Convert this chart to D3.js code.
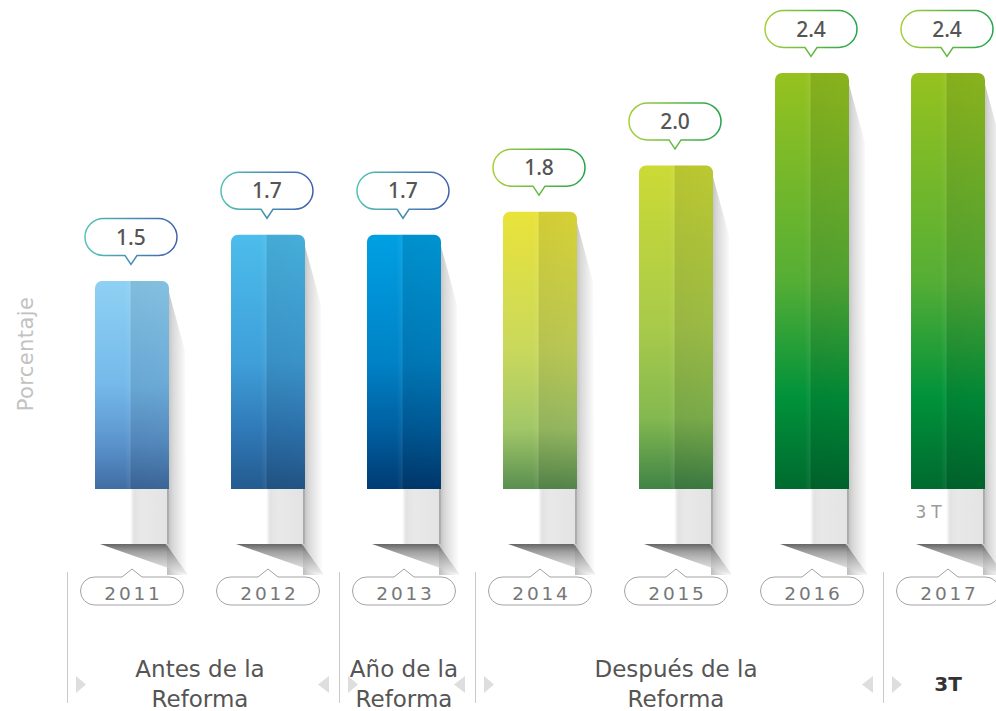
<!DOCTYPE html>
<html><head><meta charset="utf-8">
<script src="https://cdn.jsdelivr.net/npm/d3@7"></script>
<style>body{margin:0;background:#fff} svg{display:block}</style>
</head><body>
<svg id="c" width="996" height="711"></svg>
<script>
// ---- data ----
const years = ["2011","2012","2013","2014","2015","2016","2017"];
const values = [1.5, 1.7, 1.7, 1.8, 2.0, 2.4, 2.4];
const valueLabels = ["1.5","1.7","1.7","1.8","2.0","2.4","2.4"];
const groupLabels = [["Antes de la","Reforma"],["Año de la","Reforma"],["Después de la","Reforma"],["3T"]];
const groupStart = ["2011","2013","2014","2017"];
const groupEnd   = ["2012","2013","2016","2017"];
const axisTitle = "Porcentaje";
const periodNote = "3T";
// ---- palette ----
const colTop = ["#8fd1f4","#4cbdec","#00a0e3","#e9e33a","#ccda35","#96c21f","#96c21f"];
const colMid = ["#74b9ea","#3f9fd9","#0082c6","#c9d85c","#a8ca4a","#55ae35","#55ae35"];
const colLow = ["#5b93cc","#2f78b6","#005d9e","#a2c768","#84b950","#00923a","#00923a"];
const colBot = ["#3f6da3","#245a8f","#003b73","#5a8f50","#3f8346","#006a2f","#006a2f"];
const strokeL = ["#52c2b4","#52c2b4","#52c2b4","#a6cf39","#a6cf39","#a6cf39","#a6cf39"];
const strokeR = ["#3f5fae","#3f5fae","#3f5fae","#22a34b","#22a34b","#22a34b","#22a34b"];

const svg = d3.select("#c");
const W = 996;
const x = d3.scaleBand().domain(years).range([95, 985]).paddingInner(0.456).paddingOuter(0);
const y = d3.scaleLinear().domain([0.6, 2.4]).range([489, 73]);
const bw = x.bandwidth();
const base = y(0.6);
const foldY = base + 55, shadowBottom = base + 86;

const defs = svg.append("defs");
years.forEach((yr, i) => {
  const g = defs.append("linearGradient").attr("id", "bar" + i).attr("x1", 0).attr("y1", 0).attr("x2", 0).attr("y2", 1);
  [[0, colTop[i]], [0.5, colMid[i]], [0.78, colLow[i]], [1, colBot[i]]].forEach(s =>
    g.append("stop").attr("offset", s[0]).attr("stop-color", s[1]));
  const c = defs.append("linearGradient").attr("id", "cs" + i).attr("x1", 0).attr("y1", 0).attr("x2", 1).attr("y2", 0);
  c.append("stop").attr("offset", 0).attr("stop-color", strokeL[i]);
  c.append("stop").attr("offset", 1).attr("stop-color", strokeR[i]);
});
function lg(id, x2, y2, stops) {
  const g = defs.append("linearGradient").attr("id", id).attr("x1", 0).attr("y1", 0).attr("x2", x2).attr("y2", y2);
  stops.forEach(s => g.append("stop").attr("offset", s[0]).attr("stop-color", s[1]).attr("stop-opacity", s[2]));
}
lg("half", 1, 0, [[0,"#fff",0],[0.40,"#fff",0],[0.47,"#fff",0.06],[0.49,"#000",0.1],[1,"#000",0.08]]);
lg("rshadow", 1, 0, [[0,"#000",0.26],[0.3,"#000",0.15],[1,"#000",0]]);
lg("column", 1, 0, [[0,"#000",0.03],[0.08,"#000",0.11],[0.3,"#000",0.09],[1,"#000",0.11]]);
lg("fold", 0, 1, [[0,"#5e5e5e",0.95],[0.25,"#8e8e8e",0.85],[1,"#e8e8e8",0.6]]);

function barPath(L, T, w, B, r) {
  return `M${L},${B}V${T + r}A${r},${r} 0 0 1 ${L + r},${T}H${L + w - r}A${r},${r} 0 0 1 ${L + w},${T + r}V${B}Z`;
}
function pill(cx, cy, w, h, dir, pw, ph) {
  const r = h / 2, l = cx - w / 2, rt = cx + w / 2, t = cy - h / 2, b = cy + h / 2;
  let p = `M${l + r},${t}`;
  if (dir === "up") p += `H${cx - pw / 2}L${cx},${t - ph}L${cx + pw / 2},${t}`;
  p += `H${rt - r}A${r},${r} 0 0 1 ${rt - r},${b}`;
  if (dir === "down") p += `H${cx + pw / 2}L${cx},${b + ph}L${cx - pw / 2},${b}`;
  p += `H${l + r}A${r},${r} 0 0 1 ${l + r},${t}Z`;
  return p;
}

// shadows
const sh = svg.append("g");
years.forEach((yr, i) => {
  const L = x(yr), R = L + bw, cx = L + bw / 2, T = y(values[i]);
  sh.append("rect").attr("x", cx - 1).attr("y", base).attr("width", R - cx + 1).attr("height", foldY - base).attr("fill", "url(#column)");
  sh.append("polygon").attr("points", [[R - 2, T + 4], [R + 16, T + 70], [R + 18, shadowBottom], [R - 2, shadowBottom]].join(" ")).attr("fill", "url(#rshadow)");
  sh.append("polygon").attr("points", [[L + 5, foldY], [R - 3, foldY], [R + 19, shadowBottom]].join(" ")).attr("fill", "url(#fold)");
});

// bars
const bars = svg.append("g");
years.forEach((yr, i) => {
  const L = x(yr), T = y(values[i]);
  const d = barPath(L, T, bw, base, 7);
  bars.append("path").attr("d", d).attr("fill", `url(#bar${i})`);
  bars.append("path").attr("d", d).attr("fill", "url(#half)");
});

// callouts
const co = svg.append("g");
years.forEach((yr, i) => {
  const cx = x(yr) + bw / 2 - 1, cy = y(values[i]) - 44;
  co.append("path").attr("d", pill(cx, cy, 92, 37, "down", 12, 9))
    .attr("fill", "#fff").attr("stroke", `url(#cs${i})`).attr("stroke-width", 1.5);
  co.append("text").attr("x", cx).attr("y", cy + 7.5).attr("text-anchor", "middle")
    .attr("font-family", "'Noto Sans', sans-serif").attr("font-weight", 500).attr("font-size", 21)
    .attr("fill", "#555").text(valueLabels[i]);
});

// year pills
const yp = svg.append("g");
years.forEach((yr, i) => {
  const cx = x(yr) + bw / 2;
  yp.append("path").attr("d", pill(cx, 591, 103, 28, "up", 20, 8))
    .attr("fill", "#fff").attr("stroke", "#a3a3a3").attr("stroke-width", 1);
  yp.append("text").attr("x", cx + 1.5).attr("y", 600).attr("text-anchor", "middle")
    .attr("font-family", "'DejaVu Sans', sans-serif").attr("font-size", 18.5).attr("letter-spacing", 2.8)
    .attr("fill", "#777").text(yr);
});

// period note inside last bar shadow
svg.append("text").attr("x", x("2017") + bw / 2 - 17).attr("y", 518).attr("text-anchor", "middle")
  .attr("font-family", "'DejaVu Sans', sans-serif").attr("font-size", 17).attr("letter-spacing", 5)
  .attr("fill", "#9a9a9a").text(periodNote);

// groups
const gg = svg.append("g");
groupLabels.forEach((lab, k) => {
  const s = x(groupStart[k]) - 28;
  const e = x(groupEnd[k]) + bw + 28;
  gg.append("line").attr("x1", s + 0.5).attr("x2", s + 0.5).attr("y1", 572).attr("y2", 703).attr("stroke", "#c9c9c9").attr("stroke-width", 1);
  gg.append("polygon").attr("points", [[s + 9, 676], [s + 19, 684.5], [s + 9, 693]].join(" ")).attr("fill", "#dedede");
  if (e - 4 < W) gg.append("polygon").attr("points", [[e - 4, 676], [e - 15, 684.5], [e - 4, 693]].join(" ")).attr("fill", "#dedede");
  const cx = (s + e) / 2;
  if (lab.length === 1) {
    gg.append("text").attr("x", cx).attr("y", 691).attr("text-anchor", "middle")
      .attr("font-family", "'DejaVu Sans', sans-serif").attr("font-weight", "bold").attr("font-size", 20)
      .attr("fill", "#333").text(lab[0]);
  } else {
    lab.forEach((ln, j) => gg.append("text").attr("x", cx).attr("y", 677 + j * 30).attr("text-anchor", "middle")
      .attr("font-family", "'DejaVu Sans', sans-serif").attr("font-size", 23).attr("fill", "#555").text(ln));
  }
});

// axis title
svg.append("text").attr("transform", "translate(33,354) rotate(-90)").attr("text-anchor", "middle")
  .attr("font-family", "'DejaVu Sans', sans-serif").attr("font-size", 21).attr("letter-spacing", 0.4)
  .attr("fill", "#c2c2c2").text(axisTitle);
</script>
</body></html>
